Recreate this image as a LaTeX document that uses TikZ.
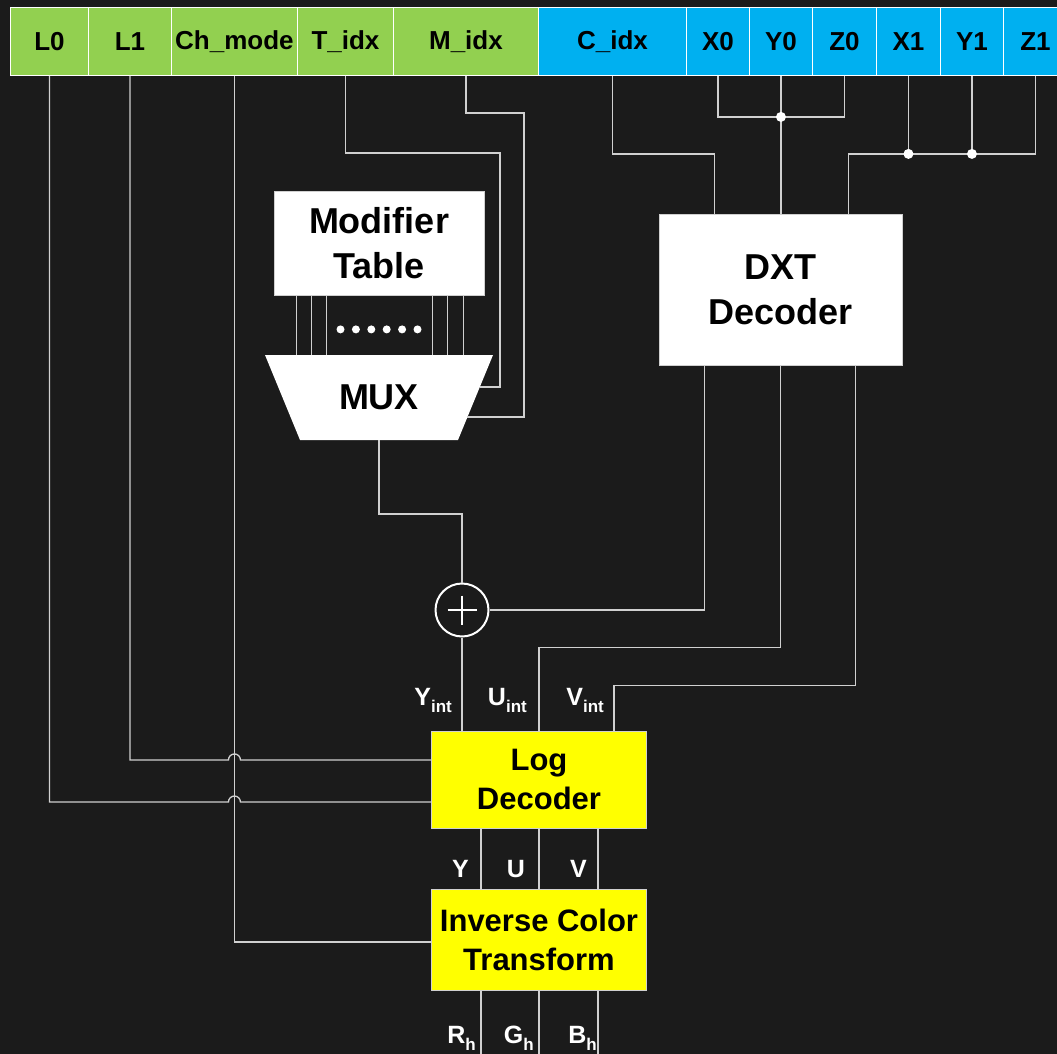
\documentclass[tikz,border=0pt]{standalone}
\usepackage{fontspec}
\setmainfont{Liberation Sans}
\usetikzlibrary{calc}

\definecolor{bgdark}{HTML}{1B1B1B}
\definecolor{fieldgreen}{HTML}{92D050}
\definecolor{fieldblue}{HTML}{00B0F0}
\definecolor{wiregray}{HTML}{D0D0D0}
\definecolor{logyellow}{HTML}{FFFF00}

\newcommand{\lowidx}[1]{\raisebox{-0.28em}{\fontsize{17}{17}\selectfont #1}}

\begin{document}
\begin{tikzpicture}[x=1pt, y=-1pt,
  field/.style={draw=white, line width=0.9pt, inner sep=0pt, minimum height=68, anchor=north west, text=black, font=\fontsize{26}{30}\selectfont\bfseries},
  block/.style={draw=wiregray, line width=0.8pt, fill=white, text=black, align=center, inner sep=0pt, font=\fontsize{36}{45}\selectfont\bfseries},
  logbox/.style={block, fill=logyellow, font=\fontsize{31}{39}\selectfont\bfseries},
  wire/.style={draw=wiregray, line width=1.3pt},
  sig/.style={text=white, inner sep=0pt, anchor=base east, font=\fontsize{25}{30}\selectfont\bfseries},
  joint/.style={circle, fill=white, inner sep=0pt, minimum size=10}]
	\fill[bgdark] (0,0) rectangle (1057,1054);
	\useasboundingbox (0,0) rectangle (1057,1054);
	\clip (0,0) rectangle (1057,1054);
	\foreach \n/\xa/\xb/\t/\c in {L0/10/88/L0/fieldgreen, L1/88/171/L1/fieldgreen, chmode/171/297/Ch\_mode/fieldgreen, tidx/297/393/T\_idx/fieldgreen, midx/393/538/M\_idx/fieldgreen, cidx/538/686/C\_idx/fieldblue, x0/686/749/X0/fieldblue, y0/749/812/Y0/fieldblue, z0/812/876/Z0/fieldblue, x1/876/940/X1/fieldblue, y1/940/1003/Y1/fieldblue, z1/1003/1067/Z1/fieldblue} {\pgfmathsetmacro\w{\xb-\xa} \node[field, fill=\c, minimum width=\w] (\n) at (\xa,7) {\t};}
	\node[block, minimum width=210, minimum height=104] (mod) at (379,243) {Modifier\\Table};
	\coordinate (muxnw) at (265,355); \coordinate (muxne) at (493,355); \coordinate (muxse) at (458,440); \coordinate (muxsw) at (300,440);
	\fill[white] (muxnw) -- (muxne) -- (muxse) -- (muxsw) -- cycle;
	\node[text=black, font=\fontsize{36}{40}\selectfont\bfseries] (mux) at (379,397) {MUX};
	\coordinate (muxout) at (379,440);
	\coordinate (muxin1) at ($(muxne)!0.376!(muxse)$); \coordinate (muxin2) at ($(muxne)!0.73!(muxse)$);
	\node[block, minimum width=243, minimum height=151] (dxt) at (780.5,289.5) {DXT\\Decoder};
	\node[circle, draw=white, line width=2pt, fill=bgdark, inner sep=0pt, minimum size=53] (add) at (462,610) {};
	\draw[white, line width=2pt] ($(add.center)+(-14.5,0)$) -- ($(add.center)+(14.5,0)$) ($(add.center)+(0,-14.5)$) -- ($(add.center)+(0,14.5)$);
	\node[logbox, minimum width=215, minimum height=97] (log) at (539,779.5) {Log\\Decoder};
	\node[logbox, minimum width=215, minimum height=101] (ict) at (539,939.5) {Inverse Color\\Transform};
	\foreach \dx in {-83,-68,-53,53,68,84} {\draw[wire, line width=1pt] ($(mod.south)+(\dx,0)$) -- ($(mod.south)+(\dx,60)$);}
	\foreach \i in {0,...,5} {\fill[white] ($(mod.south)+(-38.5+\i*15.4,34)$) circle (4);}
	\coordinate (l1in) at ($(log.north west)!0.3!(log.south west)$);
	\coordinate (l0in) at ($(log.north west)!0.73!(log.south west)$);
	\draw[wire] (L1.south) |- ($(chmode.south |- l1in)+(-6,0)$) arc[start angle=180, end angle=360, radius=6] -- (l1in);
	\draw[wire] (L0.south) |- ($(chmode.south |- l0in)+(-6,0)$) arc[start angle=180, end angle=360, radius=6] -- (l0in);
	\draw[wire] (chmode.south) |- ($(ict.north west)!0.525!(ict.south west)$);
	\draw[wire] (tidx.south) |- (500,153) |- (muxin1);
	\draw[wire] (midx.south) |- (524,113) |- (muxin2);
	\draw[wire] (cidx.south) -- ++(0,78) -| ($(dxt.north west)+(56,0)$);
	\draw[wire] (x0.south) -- ++(0,41) -| (z0.south);
	\draw[wire] (y0.south) -- (y0.south |- dxt.north);
	\node[joint] (j0) at ($(y0.south)+(0,41)$) {};
	\draw[wire] (z1.south) -- ++(0,78) -| ($(dxt.north east)+(-54,0)$);
	\draw[wire] (x1.south) -- ++(0,78) node[joint] (j1a) {};
	\draw[wire] (y1.south) -- ++(0,78) node[joint] (j1b) {};
	\draw[wire] ($(dxt.south west)+(46,0)$) |- (add.east);
	\draw[wire] (dxt.south) -- ++(0,282) -| (log.north);
	\draw[wire] ($(dxt.south east)+(-47,0)$) -- ++(0,320) -| ($(log.north east)+(-33,0)$);
	\draw[wire] (muxout) -- ++(0,74) -| (add.north);
	\draw[wire] (add.south) -- (add.south |- log.north);
	\foreach \dx in {-58,0,59} {\draw[wire] ($(log.south)+(\dx,0)$) -- ($(ict.north)+(\dx,0)$); \draw[wire] ($(ict.south)+(\dx,0)$) -- ++(0,70);}
	\node[sig] (yint) at (452,705) {Y\lowidx{int}};
	\node[sig] (uint) at (527,705) {U\lowidx{int}};
	\node[sig] (vint) at (604,705) {V\lowidx{int}};
	\node[sig] (ylab) at (469,877) {Y};
	\node[sig] (ulab) at (525,877) {U};
	\node[sig] (vlab) at (587,877) {V};
	\node[sig] (rh) at (476,1043) {R\lowidx{h}};
	\node[sig] (gh) at (534,1043) {G\lowidx{h}};
	\node[sig] (bh) at (597,1043) {B\lowidx{h}};
\end{tikzpicture}
\end{document}
